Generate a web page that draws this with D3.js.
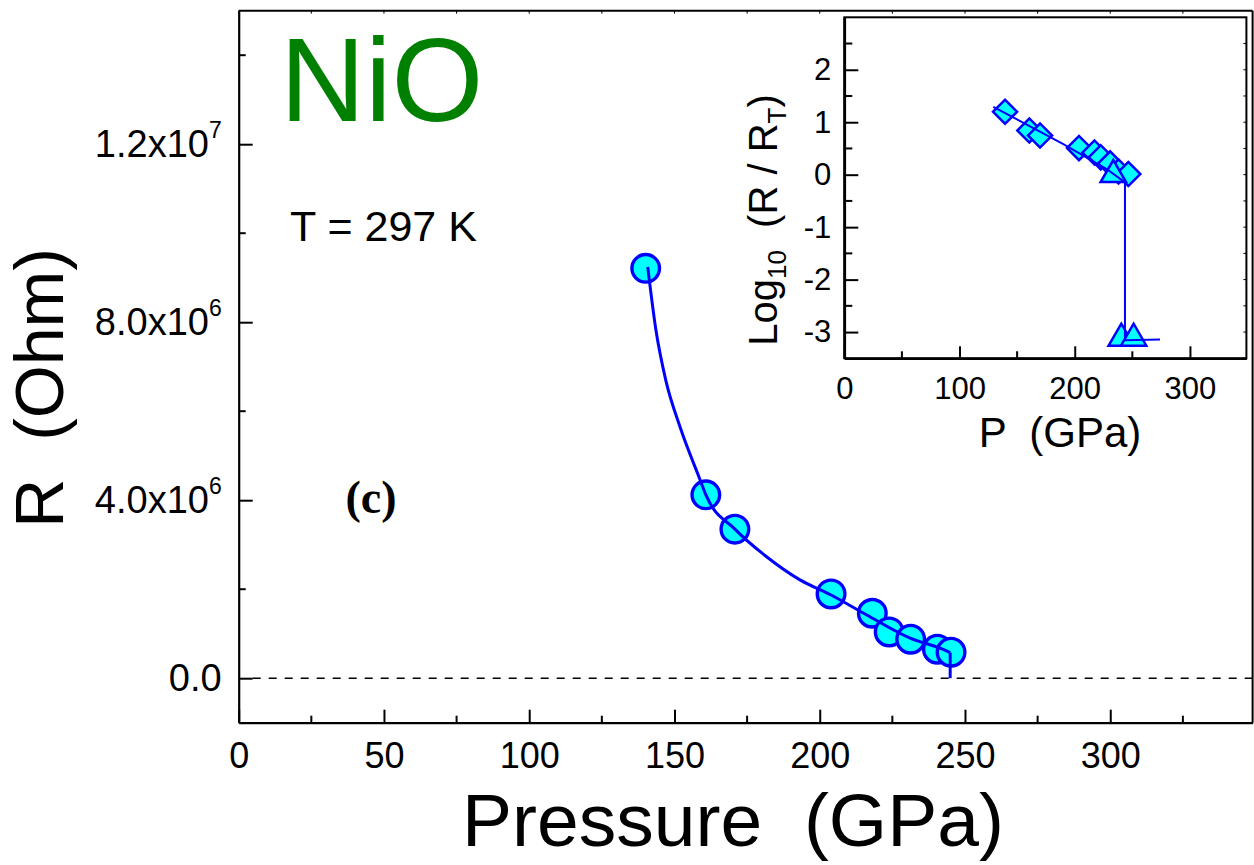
<!DOCTYPE html>
<html>
<head>
<meta charset="utf-8">
<script src="https://cdnjs.cloudflare.com/ajax/libs/d3/7.8.5/d3.min.js"></script>
<style>
  body { margin: 0; background: #fff; }
  svg { display: block; font-family: "Liberation Sans", Arial, sans-serif; }
  .axis path, .axis line { stroke: #000; }
</style>
</head>
<body>
<div id="chart"></div>
<script>
// main panel: R vs P
const pressure = [140.1, 160.8, 170.8, 203.9, 218.1, 223.9, 231.3, 240.5, 245.2]
const resistance = [9.21e6, 4.12e6, 3.35e6, 1.894e6, 1.46e6, 1.04e6, 0.876e6, 0.652e6, 0.584e6]

// fitted curve
const fitP = [140.8, 143.6, 147.0, 151.9, 158.8, 160.8, 170.8, 181.7, 193.2, 203.9, 216.2, 231.1, 241.4, 244.9]
const fitR = [9.24e6, 7.83e6, 6.70e6, 5.65e6, 4.46e6, 4.12e6, 3.35e6, 2.73e6, 2.21e6, 1.87e6, 1.42e6, 0.90e6, 0.674e6, 0.575e6]
const dropP = [244.9, 244.9]
const dropR = [0.575e6, 0]

const xTicks = [0, 50, 100, 150, 200, 250, 300]
const xMinor = [25, 75, 125, 175, 225, 275, 325]
const yTicks = [0, 4e6, 8e6, 1.2e7]
const yMinor = [2e6, 6e6, 1e7, 1.4e7]
const yLabels = [["0.0", ""], ["4.0x10", "6"], ["8.0x10", "6"], ["1.2x10", "7"]]

// inset: log10(R/RT) vs P
const insetDiamondP = [139.5, 160.6, 169.9, 203.7, 217.1, 222.6, 230.7, 238.0, 246.5]
const insetDiamondLog = [1.198, 0.842, 0.747, 0.507, 0.424, 0.33, 0.215, 0.06, 0.013]
const insetTriP = [233.5, 240.4, 251.1]
const insetTriLog = [0.0, -3.12, -3.12]
const insetLineP = [129.3, 190.1, 227.7, 243.6, 243.6, 274]
const insetLineLog = [1.293, 0.584, 0.108, -0.146, -3.156, -3.14]
const insetXTicks = [0, 100, 200, 300]
const insetXMinor = [50, 150, 250]
const insetYTicks = [-3, -2, -1, 0, 1, 2]
const insetYMinor = [-2.5, -1.5, -0.5, 0.5, 1.5, 2.5]

const width = 1254, height = 865
const blue = "#0000ff", cyan = "#00ffff"

const svg = d3.select("#chart").append("svg")
  .attr("width", width)
  .attr("height", height)

const x = d3.scaleLinear().domain([0, 349]).range([238.7, 1252.6])
const y = d3.scaleLinear().domain([-1e6, 1.5e7]).range([722.7, 10.7])

// Frame (top + right)
svg.append("line").attr("x1", x(0)).attr("x2", x(349)).attr("y1", y(1.5e7)).attr("y2", y(1.5e7))
  .attr("stroke", "#000").attr("stroke-width", 2)
svg.append("line").attr("x1", x(349)).attr("x2", x(349)).attr("y1", y(1.5e7)).attr("y2", y(-1e6))
  .attr("stroke", "#000").attr("stroke-width", 2)

// small ticks on top
svg.append("g").selectAll("line").data(xTicks.concat(xMinor)).enter().append("line")
  .attr("x1", d => x(d)).attr("x2", d => x(d))
  .attr("y1", y(1.5e7)).attr("y2", y(1.5e7) + 3)
  .attr("stroke", "#000").attr("stroke-width", 1)

// Bottom axis
const xAxis = svg.append("g").attr("class", "axis")
  .attr("transform", `translate(0,${y(-1e6)})`)
  .call(d3.axisBottom(x).tickValues(xTicks).tickSize(-13).tickSizeOuter(0).tickPadding(20))
xAxis.selectAll("text").attr("font-size", 36).attr("fill", "#000")
  .style("font-family", "Liberation Sans, Arial, sans-serif")
xAxis.selectAll("line").attr("stroke-width", 2)
xAxis.select(".domain").attr("stroke-width", 2.2)
xAxis.selectAll(".minor").data(xMinor).enter().append("line")
  .attr("x1", d => x(d)).attr("x2", d => x(d))
  .attr("y1", 0).attr("y2", -7)
  .attr("stroke", "#000").attr("stroke-width", 2)

// Left axis
const yAxis = svg.append("g").attr("class", "axis")
  .attr("transform", `translate(${x(0)},0)`)
  .call(d3.axisLeft(y).tickValues(yTicks).tickSize(-14).tickSizeOuter(0).tickPadding(17))
yAxis.select(".domain").attr("stroke-width", 2.2)
yAxis.selectAll("line").attr("stroke-width", 2)
yAxis.selectAll("text")
  .attr("font-size", 38).attr("fill", "#000")
  .style("font-family", "Liberation Sans, Arial, sans-serif")
  .text("")
  .each(function(d) {
    const t = d3.select(this)
    const lab = yLabels[yTicks.indexOf(d)]
    t.append("tspan").text(lab[0])
    if (lab[1]) {
      t.append("tspan").attr("font-size", 23).attr("dy", -19).text(lab[1])
    }
  })
yAxis.selectAll(".minor").data(yMinor).enter().append("line")
  .attr("x1", 0).attr("x2", 7)
  .attr("y1", d => y(d)).attr("y2", d => y(d))
  .attr("stroke", "#000").attr("stroke-width", 2)

// zero line
svg.append("line")
  .attr("x1", x(0) + 14).attr("x2", x(349))
  .attr("y1", y(0)).attr("y2", y(0))
  .attr("stroke", "#000").attr("stroke-width", 1.5)
  .attr("stroke-dasharray", "8,8")

// Titles
svg.append("text")
  .attr("x", 733).attr("y", 846)
  .attr("text-anchor", "middle")
  .attr("font-size", 75)
  .attr("xml:space", "preserve")
  .text("Pressure  (GPa)")

svg.append("text")
  .attr("transform", "translate(63,388) rotate(-90)")
  .attr("text-anchor", "middle")
  .attr("font-size", 68)
  .attr("xml:space", "preserve")
  .text("R  (Ohm)")

svg.append("text")
  .attr("x", 280).attr("y", 121)
  .attr("font-size", 118)
  .attr("fill", "#008000")
  .text("NiO")

svg.append("text")
  .attr("x", 290).attr("y", 240.5)
  .attr("font-size", 43)
  .text("T = 297 K")

svg.append("text")
  .attr("x", 371).attr("y", 513)
  .attr("text-anchor", "middle")
  .attr("font-size", 46)
  .attr("font-weight", "bold")
  .style("font-family", "Liberation Serif, Times New Roman, serif")
  .text("(c)")

// Data points
const pts = pressure.map((p, i) => ({ p: p, r: resistance[i] }))
svg.append("g").selectAll("circle").data(pts).enter().append("circle")
  .attr("cx", d => x(d.p))
  .attr("cy", d => y(d.r))
  .attr("r", 13.8)
  .attr("fill", cyan)
  .attr("stroke", blue)
  .attr("stroke-width", 3.4)

const fit = fitP.map((p, i) => [p, fitR[i]])
svg.append("path")
  .attr("d", d3.line().x(d => x(d[0])).y(d => y(d[1])).curve(d3.curveMonotoneX)(fit))
  .attr("fill", "none").attr("stroke", blue).attr("stroke-width", 3)
svg.append("path")
  .attr("d", d3.line().x(d => x(d[0])).y(d => y(d[1]))(dropP.map((p, i) => [p, dropR[i]])))
  .attr("fill", "none").attr("stroke", blue).attr("stroke-width", 3)

// Inset
const ix = d3.scaleLinear().domain([0, 349]).range([844.3, 1246.4])
const iy = d3.scaleLinear().domain([-3.5, 3]).range([358.3, 17.3])

const inset = svg.append("g")
inset.append("rect")
  .attr("x", ix(0)).attr("y", iy(3))
  .attr("width", ix(349) - ix(0)).attr("height", iy(-3.5) - iy(3))
  .attr("fill", "#fff").attr("stroke", "#000").attr("stroke-width", 2)

const ixAxis = inset.append("g").attr("class", "axis")
  .attr("transform", `translate(0,${iy(-3.5)})`)
  .call(d3.axisBottom(ix).tickValues(insetXTicks).tickSize(-12).tickSizeOuter(0).tickPadding(19))
ixAxis.select(".domain").attr("stroke-width", 2.6)
ixAxis.selectAll("line").attr("stroke-width", 2)
ixAxis.selectAll("text").attr("font-size", 31).attr("fill", "#000")
  .style("font-family", "Liberation Sans, Arial, sans-serif")
ixAxis.selectAll(".minor").data(insetXMinor).enter().append("line")
  .attr("x1", d => ix(d)).attr("x2", d => ix(d))
  .attr("y1", 0).attr("y2", -7)
  .attr("stroke", "#000").attr("stroke-width", 2)

const iyAxis = inset.append("g").attr("class", "axis")
  .attr("transform", `translate(${ix(0)},0)`)
  .call(d3.axisLeft(iy).tickValues(insetYTicks).tickSize(-14).tickSizeOuter(0).tickPadding(13)
    .tickFormat(d => d < 0 ? "-" + Math.abs(d) : d))
iyAxis.select(".domain").attr("stroke-width", 2.6)
iyAxis.selectAll("line").attr("stroke-width", 2)
iyAxis.selectAll("text").attr("font-size", 31).attr("fill", "#000")
  .style("font-family", "Liberation Sans, Arial, sans-serif")
iyAxis.selectAll(".minor").data(insetYMinor).enter().append("line")
  .attr("x1", 0).attr("x2", 8)
  .attr("y1", d => iy(d)).attr("y2", d => iy(d))
  .attr("stroke", "#000").attr("stroke-width", 2)

// tiny ticks on inset right side
inset.append("g").selectAll("line").data(insetYTicks.concat(insetYMinor)).enter().append("line")
  .attr("x1", ix(349)).attr("x2", ix(349) - 3)
  .attr("y1", d => iy(d)).attr("y2", d => iy(d))
  .attr("stroke", "#000").attr("stroke-width", 1)

inset.append("text")
  .attr("x", 1060).attr("y", 446.7)
  .attr("text-anchor", "middle")
  .attr("font-size", 42)
  .attr("xml:space", "preserve")
  .text("P  (GPa)")

const ylab = inset.append("text")
  .attr("transform", "translate(777,220) rotate(-90)")
  .attr("text-anchor", "middle")
  .attr("font-size", 40)
  .attr("xml:space", "preserve")
ylab.append("tspan").text("Log")
ylab.append("tspan").attr("font-size", 26).attr("dy", 9).text("10")
ylab.append("tspan").attr("dy", -9).text("  (R / R")
ylab.append("tspan").attr("font-size", 26).attr("dy", 9).text("T")
ylab.append("tspan").attr("dy", -9).text(")")

const diamonds = insetDiamondP.map((p, i) => ({ p: p, v: insetDiamondLog[i] }))
inset.append("g").selectAll("path").data(diamonds).enter().append("path")
  .attr("d", d3.symbol().type(d3.symbolSquare).size(289))
  .attr("transform", d => `translate(${ix(d.p)},${iy(d.v)}) rotate(45)`)
  .attr("fill", cyan).attr("stroke", blue).attr("stroke-width", 2.5)

const tris = insetTriP.map((p, i) => ({ p: p, v: insetTriLog[i] }))
inset.append("g").selectAll("path").data(tris).enter().append("path")
  .attr("d", d3.symbol().type(d3.symbolTriangle).size(280))
  .attr("transform", d => `translate(${ix(d.p)},${iy(d.v)})`)
  .attr("fill", cyan).attr("stroke", blue).attr("stroke-width", 2.5)

inset.append("path")
  .attr("d", d3.line().x(d => ix(d[0])).y(d => iy(d[1]))(insetLineP.map((p, i) => [p, insetLineLog[i]])))
  .attr("fill", "none").attr("stroke", blue).attr("stroke-width", 2)
</script>
</body>
</html>
